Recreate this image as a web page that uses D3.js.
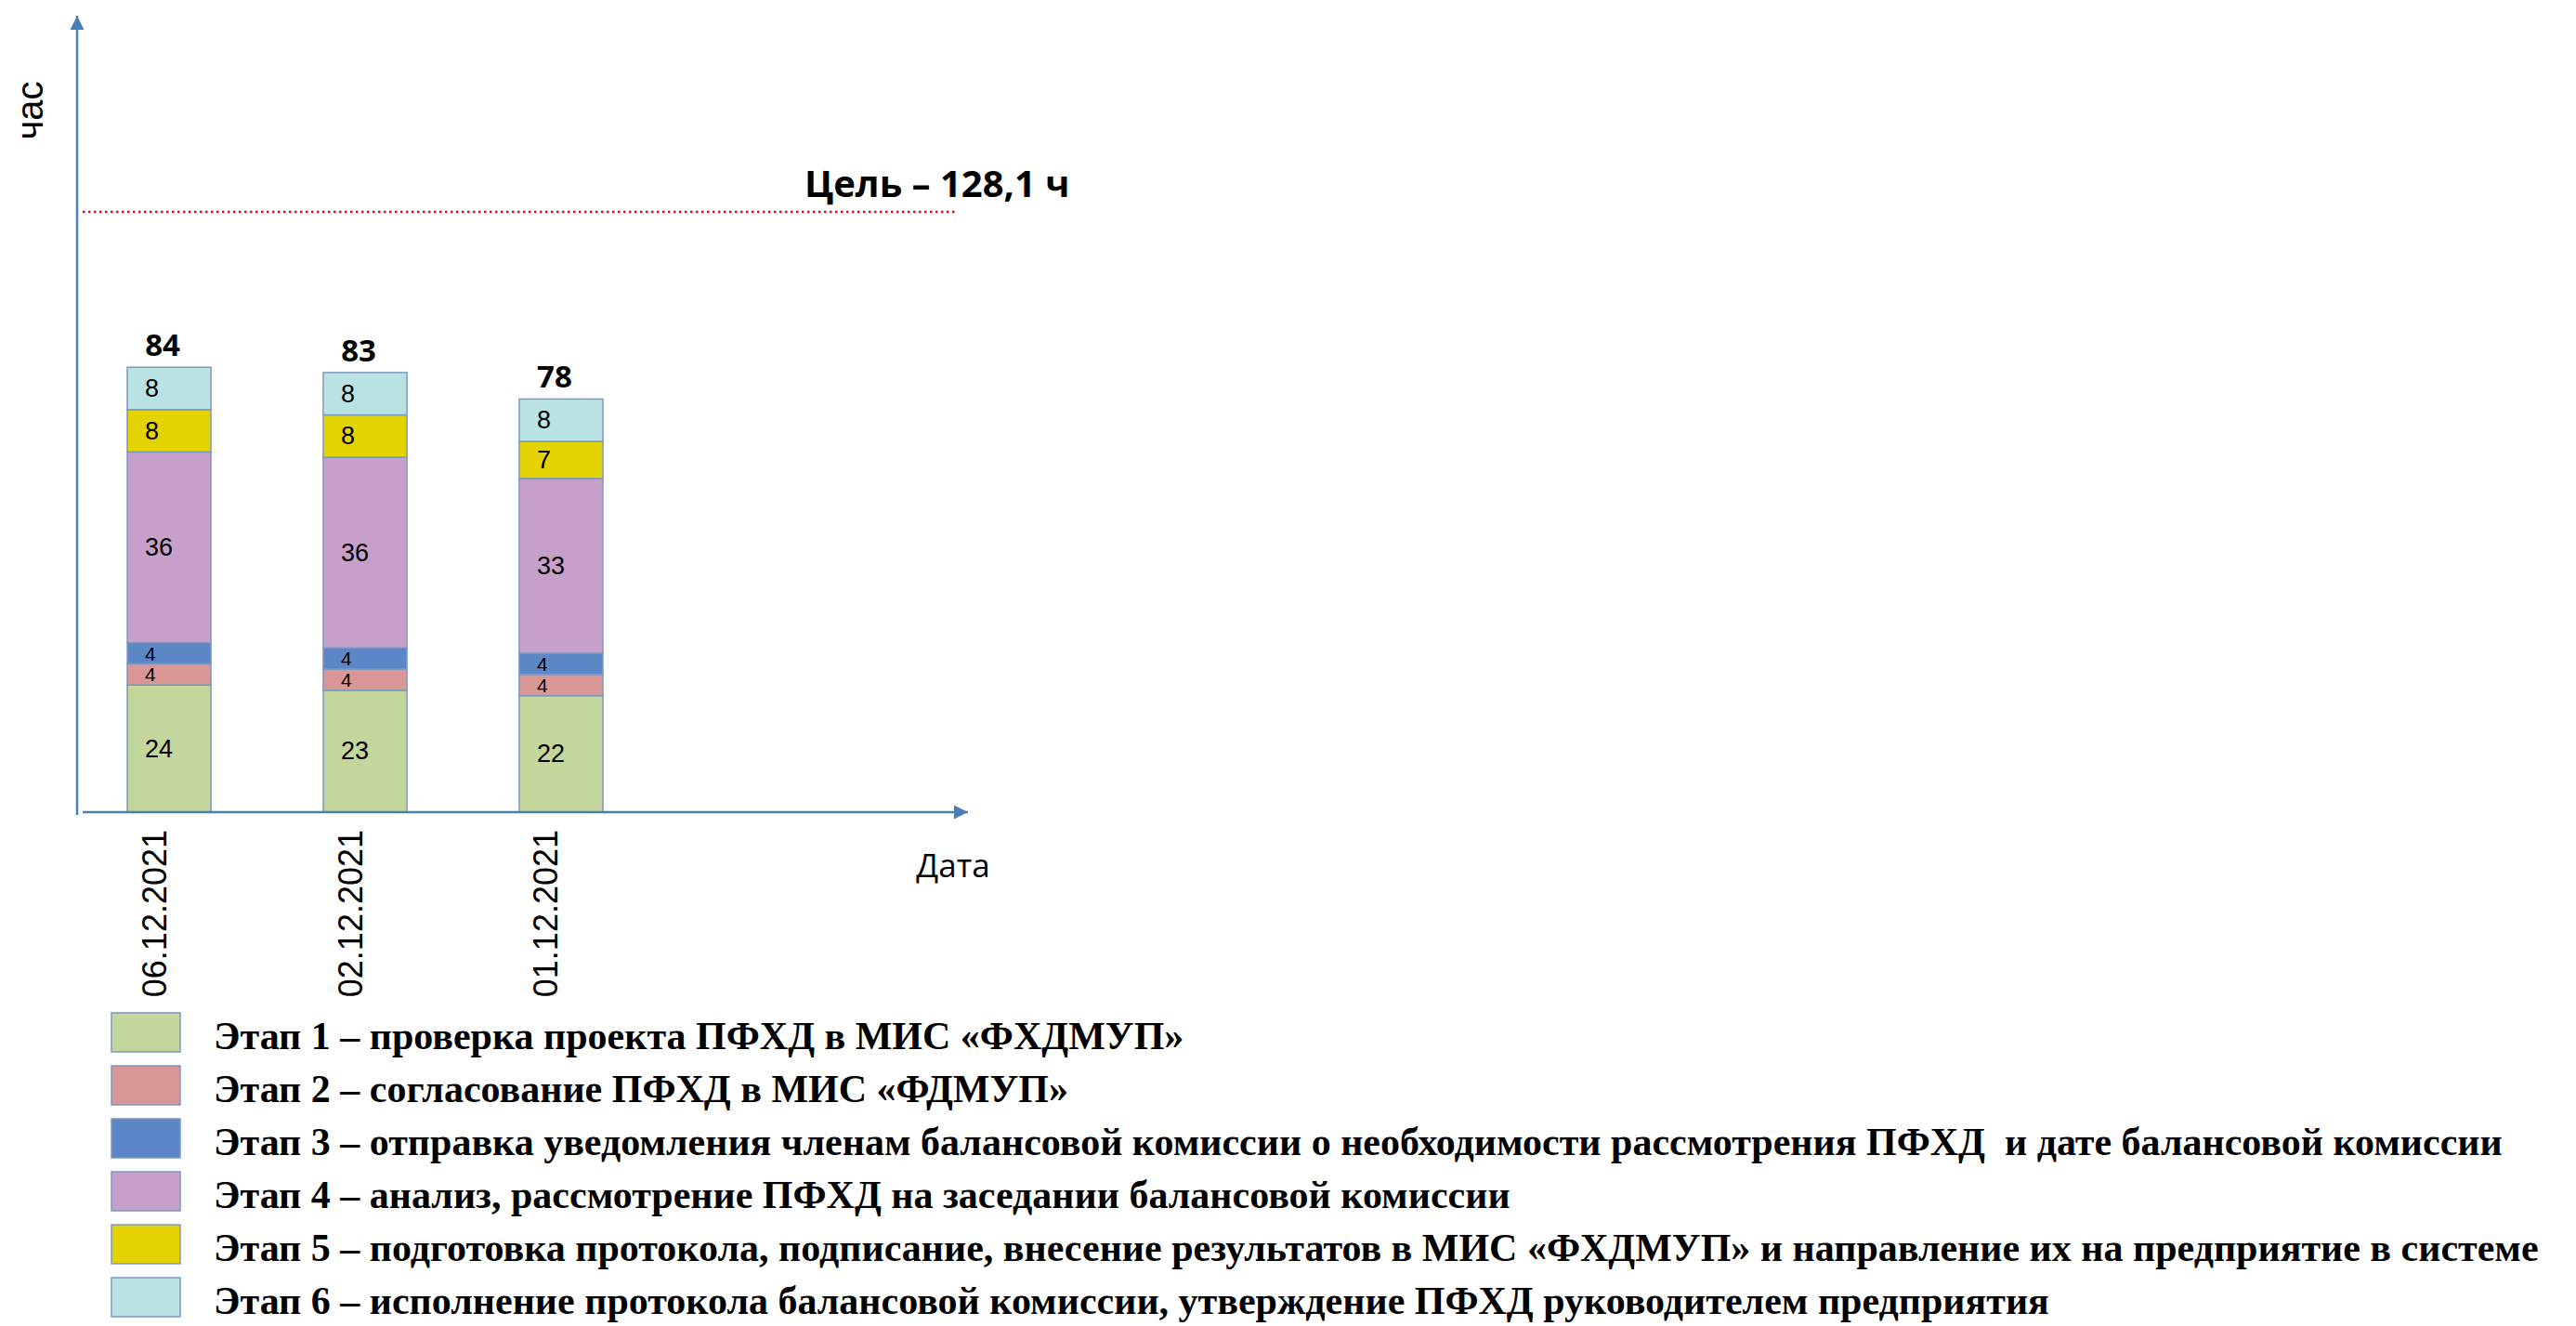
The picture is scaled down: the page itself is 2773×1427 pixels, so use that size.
<!DOCTYPE html>
<html>
<head>
<meta charset="utf-8">
<script src="https://cdn.jsdelivr.net/npm/d3@7"></script>
<style>
  html, body { margin: 0; padding: 0; background: #fff; }
  svg { display: block; }
  .legend-text { white-space: pre; }
</style>
</head>
<body>
<svg id="chart" width="2773" height="1427"></svg>
<script>
// NOTE: chart data
const dates = ['06.12.2021', '02.12.2021', '01.12.2021']
const stageKeys = ['s1', 's2', 's3', 's4', 's5', 's6']
const stage1 = [24, 23, 22]
const stage2 = [4, 4, 4]
const stage3 = [4, 4, 4]
const stage4 = [36, 36, 33]
const stage5 = [8, 8, 7]
const stage6 = [8, 8, 8]
const totals = [84, 83, 78]
const stageColors = ['#C3D69B', '#D99795', '#5B87C6', '#C6A0CB', '#E3D300', '#B9E2E2']
const stageNames = [
  'Этап 1 – проверка проекта ПФХД в МИС «ФХДМУП»',
  'Этап 2 – согласование ПФХД в МИС «ФДМУП»',
  'Этап 3 – отправка уведомления членам балансовой комиссии о необходимости рассмотрения ПФХД  и дате балансовой комиссии',
  'Этап 4 – анализ, рассмотрение ПФХД на заседании балансовой комиссии',
  'Этап 5 – подготовка протокола, подписание, внесение результатов в МИС «ФХДМУП» и направление их на предприятие в системе',
  'Этап 6 – исполнение протокола балансовой комиссии, утверждение ПФХД руководителем предприятия',
]
const targetText = 'Цель – 128,1 ч'
const yTitle = 'час'
const xTitle = 'Дата'

const svg = d3.select('#chart')
const axisColor = '#4A7EBB'

// NOTE: build rows for the stack
const rows = dates.map((d, i) => ({
  date: d,
  s1: stage1[i], s2: stage2[i], s3: stage3[i],
  s4: stage4[i], s5: stage5[i], s6: stage6[i],
}))
const series = d3.stack().keys(stageKeys)(rows)

// NOTE: scales
const originX = 83
const originY = 874
const x = d3.scaleBand()
  .domain(dates)
  .range([originX, originX + 620])
  .paddingInner(0.573)
  .paddingOuter(0.256)
const y = d3.scaleLinear().domain([0, 150]).range([originY, 19])

// NOTE: axis arrows
svg.append('defs').append('marker')
  .attr('id', 'arrow')
  .attr('viewBox', '0 0 10 10')
  .attr('refX', 10)
  .attr('refY', 5)
  .attr('markerWidth', 15)
  .attr('markerHeight', 16)
  .attr('markerUnits', 'userSpaceOnUse')
  .attr('orient', 'auto')
  .append('path')
  .attr('d', 'M0,0 L10,5 L0,10 Z')
  .attr('fill', axisColor)

// NOTE: y axis line (goes a bit below the x axis like the original)
svg.append('line')
  .attr('x1', originX).attr('y1', originY + 3)
  .attr('x2', originX).attr('y2', 17)
  .attr('stroke', axisColor).attr('stroke-width', 2.5)
  .attr('marker-end', 'url(#arrow)')

// NOTE: target line and caption (not to scale in the original)
svg.append('line')
  .attr('x1', 89).attr('y1', 228)
  .attr('x2', 1028).attr('y2', 228)
  .attr('stroke', '#FF0000').attr('stroke-width', 2.5)
  .attr('stroke-dasharray', '2.5,3.5')

svg.append('text')
  .attr('x', 866).attr('y', 212)
  .attr('font-family', "'Open Sans', sans-serif")
  .attr('font-weight', 700)
  .attr('font-size', 40)
  .attr('fill', '#000')
  .text(targetText)

// NOTE: stacked bars
const layer = svg.append('g')
  .selectAll('g')
  .data(series)
  .join('g')
  .attr('fill', (d, i) => stageColors[i])

layer.selectAll('rect')
  .data(d => d)
  .join('rect')
  .attr('x', d => x(d.data.date))
  .attr('y', d => y(d[1]))
  .attr('width', x.bandwidth())
  .attr('height', d => y(d[0]) - y(d[1]))
  .attr('stroke', '#7D98C3')
  .attr('stroke-width', 1.5)

// NOTE: segment labels, shrink to fit thin segments
layer.selectAll('text')
  .data(d => d.map(v => ({ v, val: v[1] - v[0] })))
  .join('text')
  .attr('x', d => x(d.v.data.date) + 19)
  .attr('y', d => (y(d.v[0]) + y(d.v[1])) / 2)
  .attr('dominant-baseline', 'central')
  .attr('font-family', "'Liberation Sans', Arial, sans-serif")
  .attr('font-size', d => Math.min(27, y(d.v[0]) - y(d.v[1]) - 2))
  .attr('fill', '#000')
  .text(d => d.val)

// NOTE: totals above bars
svg.append('g')
  .selectAll('text')
  .data(dates)
  .join('text')
  .attr('x', d => x(d) + x.bandwidth() / 2 - 7)
  .attr('y', (d, i) => y(totals[i]) - 12)
  .attr('text-anchor', 'middle')
  .attr('font-family', "'Open Sans', sans-serif")
  .attr('font-weight', 700)
  .attr('font-size', 33)
  .text((d, i) => totals[i])

// NOTE: x axis line drawn over bar bottoms
svg.append('line')
  .attr('x1', originX + 6).attr('y1', originY)
  .attr('x2', 1042).attr('y2', originY)
  .attr('stroke', axisColor).attr('stroke-width', 2.5)
  .attr('marker-end', 'url(#arrow)')

// NOTE: date labels, rotated
svg.append('g')
  .selectAll('text')
  .data(dates)
  .join('text')
  .attr('transform', d => `translate(${x(d) + x.bandwidth() / 2 - 16},893) rotate(-90)`)
  .attr('text-anchor', 'end')
  .attr('dominant-baseline', 'central')
  .attr('font-family', "'Liberation Sans', Arial, sans-serif")
  .attr('font-size', 36)
  .text(d => d)

// NOTE: axis titles
svg.append('text')
  .attr('transform', 'translate(32,119) rotate(-90)')
  .attr('text-anchor', 'middle')
  .attr('dominant-baseline', 'central')
  .attr('font-family', "'Liberation Sans', Arial, sans-serif")
  .attr('font-size', 40)
  .text(yTitle)

svg.append('text')
  .attr('x', 1026).attr('y', 930)
  .attr('text-anchor', 'middle')
  .attr('dominant-baseline', 'central')
  .attr('font-family', "'Open Sans', sans-serif")
  .attr('font-size', 35)
  .text(xTitle)

// NOTE: legend
const legend = svg.append('g')
  .selectAll('g')
  .data(stageNames)
  .join('g')
  .attr('transform', (d, i) => `translate(0,${1111 + i * 57})`)

legend.append('rect')
  .attr('x', 120).attr('y', -21)
  .attr('width', 74).attr('height', 42)
  .attr('fill', (d, i) => stageColors[i])
  .attr('stroke', '#7D98C3')
  .attr('stroke-width', 1.5)

legend.append('text')
  .attr('class', 'legend-text')
  .attr('x', 230).attr('y', 4)
  .attr('dominant-baseline', 'central')
  .attr('font-family', "'Liberation Serif', 'Times New Roman', serif")
  .attr('font-weight', 700)
  .attr('font-size', 42)
  .text(d => d)
</script>
</body>
</html>
